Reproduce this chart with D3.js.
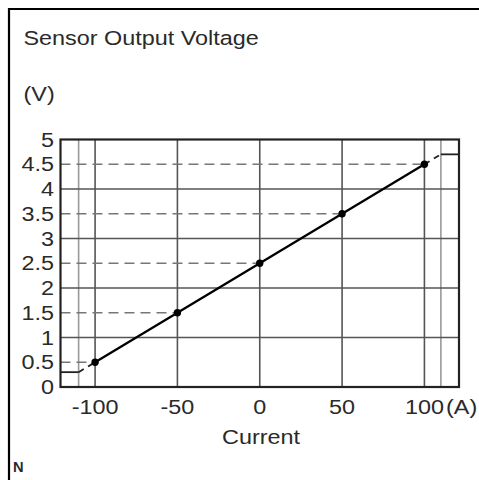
<!DOCTYPE html>
<html><head><meta charset="utf-8">
<script src="https://cdn.jsdelivr.net/npm/d3@7"></script>
<style>body{margin:0;background:#fff}svg{display:block}text{font-family:"Liberation Sans",Arial,sans-serif;fill:#2a2a2a}</style>
</head><body><svg id="c" width="479" height="480"></svg>
<script>
const currents = [-100, -50, 0, 50, 100];
const voltages = [0.5, 1.5, 2.5, 3.5, 4.5];
const yTicks = [0, 0.5, 1, 1.5, 2, 2.5, 3, 3.5, 4, 4.5, 5];
const yTickLabels = ["0","0.5","1","1.5","2","2.5","3","3.5","4","4.5","5"];
const xTicks = [-100, -50, 0, 50, 100];
const xTickLabels = ["-100","-50","0","50","100"];
const solidGrid = [1, 2, 3, 4];
const limitCurrents = [-110, 110];
const lowSat = [[-121, 0.3], [-110, 0.3]];
const lowDash = [[-110, 0.3], [-100, 0.5]];
const highDash = [[100, 4.5], [110, 4.7]];
const highSat = [[110, 4.7], [121, 4.7]];

const svg = d3.select("#c");
const x = d3.scaleLinear().domain([-121, 121]).range([60.5, 459]);
const y = d3.scaleLinear().domain([0, 5]).range([387, 139.5]);
const FS = 19.5, SX = 1.2;

function label(px, py, str, anchor, opts) {
  opts = opts || {};
  const gg = svg.append("g").attr("transform", `translate(${px},${py}) scale(${opts.sx || SX},1)`);
  const t = gg.append("text").attr("x",0).attr("y",0).attr("text-anchor",anchor || "start")
    .attr("font-size", opts.fs || FS).text(str);
  if (opts.dy) t.attr("dy", opts.dy);
  if (opts.bold) t.attr("font-weight","bold");
  return t;
}

svg.append("line").attr("x1",9).attr("y1",9).attr("x2",479).attr("y2",9).attr("stroke","#000").attr("stroke-width",2.2);
svg.append("line").attr("x1",9).attr("y1",8).attr("x2",9).attr("y2",480).attr("stroke","#000").attr("stroke-width",2.2);

label(23.5, 44.5, "Sensor Output Voltage", "start");
label(23.5, 100.5, "(V)", "start");

const g = svg.append("g");
g.selectAll(".lim").data(limitCurrents).join("line")
  .attr("x1",d=>x(d)).attr("x2",d=>x(d)).attr("y1",y(5)).attr("y2",y(0))
  .attr("stroke","#999").attr("stroke-width",1.6);
g.selectAll(".vg").data(xTicks).join("line")
  .attr("x1",d=>x(d)).attr("x2",d=>x(d)).attr("y1",y(5)).attr("y2",y(0))
  .attr("stroke","#555").attr("stroke-width",1.6);
g.selectAll(".hg").data(solidGrid).join("line")
  .attr("x1",x.range()[0]).attr("x2",x.range()[1]).attr("y1",d=>y(d)).attr("y2",d=>y(d))
  .attr("stroke","#555").attr("stroke-width",1.6);
g.selectAll(".dg").data(currents.map((c,i)=>[c,voltages[i]])).join("line")
  .attr("x1",x.range()[0]).attr("x2",d=>x(d[0])).attr("y1",d=>y(d[1])).attr("y2",d=>y(d[1]))
  .attr("stroke","#777").attr("stroke-width",1.6).attr("stroke-dasharray","10,6");

g.append("rect").attr("x",x.range()[0]).attr("y",y(5)).attr("width",x.range()[1]-x.range()[0]).attr("height",y(0)-y(5))
  .attr("fill","none").attr("stroke","#222").attr("stroke-width",2.2);

const line = d3.line().x(d=>x(d[0])).y(d=>y(d[1]));
g.append("path").attr("d",line(currents.map((c,i)=>[c,voltages[i]]))).attr("fill","none").attr("stroke","#000").attr("stroke-width",2.3);
[lowSat, highSat].forEach(s=>g.append("path").attr("d",line(s)).attr("fill","none").attr("stroke","#222").attr("stroke-width",1.8));
[lowDash, highDash].forEach(s=>g.append("path").attr("d",line(s)).attr("fill","none").attr("stroke","#222").attr("stroke-width",1.8).attr("stroke-dasharray","6,5"));
g.selectAll(".pt").data(currents.map((c,i)=>[c,voltages[i]])).join("circle")
  .attr("cx",d=>x(d[0])).attr("cy",d=>y(d[1])).attr("r",3.7).attr("fill","#000");

yTicks.forEach((d,i)=>label(54, y(d), yTickLabels[i], "end", {dy:"0.36em"}));
xTicks.forEach((d,i)=>label(x(d), 414, xTickLabels[i], "middle"));
label(446, 414, "(A)", "start");
label(261, 444, "Current", "middle");
label(13, 472, "N", "start", {fs:14, bold:true, sx:1.05});
</script></body></html>
